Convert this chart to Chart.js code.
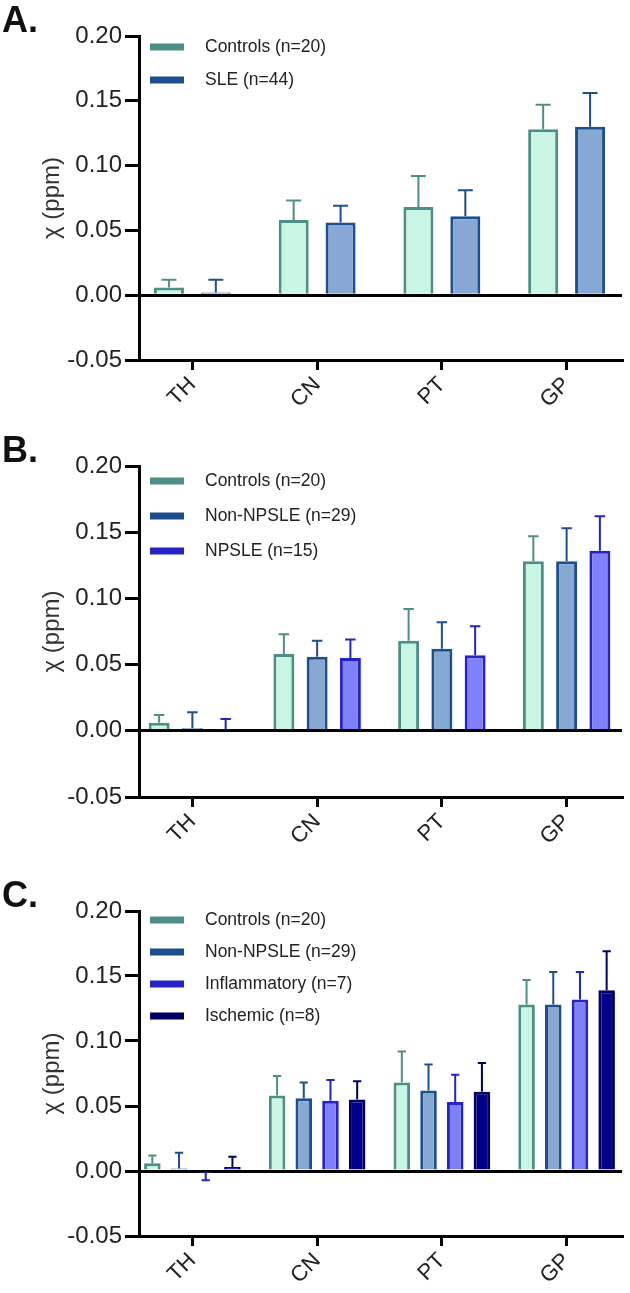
<!DOCTYPE html>
<html>
<head>
<meta charset="utf-8">
<script src="https://cdn.jsdelivr.net/npm/chart.js@4"></script>
<style>
  body { margin: 0; background: #fff; width: 630px; height: 1293px; overflow: hidden; position: relative; }
  .panel { position: absolute; left: 0; width: 630px; }
  .tag { position: absolute; left: 2px; top: 2px; font: bold 36px "Liberation Sans", Arial, sans-serif; line-height: 36px; color: #111; }
</style>
</head>
<body>
<div class="panel" style="top:0;height:430px"><canvas id="chartA"></canvas><div class="tag">A.</div></div>
<div class="panel" style="top:430px;height:440px"><canvas id="chartB"></canvas><div class="tag">B.</div></div>
<div class="panel" style="top:875px;height:421px"><canvas id="chartC"></canvas><div class="tag">C.</div></div>
<script>
const regions = ["TH", "CN", "PT", "GP"];
const yMin = -0.05;
const yMax = 0.2;
const yStep = 0.05;

// group means and SD (ppm)
const controlsMean = [0.006, 0.058, 0.068, 0.128];
const controlsSd = [0.006, 0.015, 0.024, 0.019];
const sleMean = [0.002, 0.056, 0.061, 0.130];
const sleSd = [0.010, 0.013, 0.020, 0.026];
const nonNpsleMean = [0.002, 0.056, 0.062, 0.128];
const nonNpsleSd = [0.012, 0.012, 0.020, 0.025];
const npsleMean = [0.001, 0.055, 0.057, 0.136];
const npsleSd = [0.008, 0.014, 0.022, 0.026];
const inflamMean = [-0.0005, 0.054, 0.053, 0.132];
const inflamSd = [0.0067, 0.016, 0.021, 0.021];
const ischemicMean = [0.003, 0.055, 0.061, 0.139];
const ischemicSd = [0.008, 0.014, 0.022, 0.030];

const FONT = '"Liberation Sans", Arial, sans-serif';

const styles = {
  controls: { fill: "#c9f5e5", border: "#4d8f86" },
  sle: { fill: "#88a8d4", border: "#1d4f8f" },
  npsle: { fill: "#8080fa", border: "#2424c4" },
  ischemic: { fill: "#00008c", border: "#000064" },
};

const ds = (label, data, sd, st) => ({
  label: label,
  data: data.map((v, i) => ({ x: i, y: v })),
  sd: sd,
  backgroundColor: st.fill,
  borderColor: st.border,
  borderWidth: 3,
});

// one-sided error bars (SD) drawn from the bar end
const errorBars = {
  id: "errorBars",
  afterDatasetsDraw(chart) {
    const { ctx } = chart;
    const yScale = chart.scales.y;
    ctx.save();
    chart.data.datasets.forEach((d, i) => {
      const meta = chart.getDatasetMeta(i);
      meta.data.forEach((bar, j) => {
        const m = d.data[j].y;
        const dir = m < 0 ? -1 : 1;
        const yEnd = yScale.getPixelForValue(m + dir * d.sd[j]);
        const cap = bar.width * 0.5;
        ctx.strokeStyle = d.borderColor;
        ctx.lineWidth = 2;
        ctx.beginPath();
        ctx.moveTo(bar.x, bar.y);
        ctx.lineTo(bar.x, yEnd);
        ctx.moveTo(bar.x - cap / 2, yEnd);
        ctx.lineTo(bar.x + cap / 2, yEnd);
        ctx.stroke();
      });
    });
    ctx.restore();
  },
};

// legend inside the plot, top-left
const insideLegend = {
  id: "insideLegend",
  afterDraw(chart, args, opts) {
    const { ctx, chartArea } = chart;
    ctx.save();
    ctx.font = "17.5px " + FONT;
    ctx.textBaseline = "middle";
    chart.data.datasets.forEach((d, i) => {
      const x = chartArea.left + 11;
      const y = chartArea.top + opts.first + i * opts.gap;
      ctx.fillStyle = d.borderColor;
      ctx.fillRect(x, y - 3.5, 34, 7);
      ctx.fillStyle = "#222";
      ctx.fillText(d.label, x + 55, y);
    });
    ctx.restore();
  },
};

const makeChart = (id, datasets, catPct, barPct, padBottom, legendPos) => {
  datasets.forEach((d) => {
    d.categoryPercentage = catPct;
    d.barPercentage = barPct;
  });
  new Chart(document.getElementById(id), {
    type: "bar",
    data: { datasets: datasets },
    options: {
      responsive: true,
      maintainAspectRatio: false,
      animation: false,
      layout: { padding: { top: 36, left: 38, right: 8, bottom: padBottom } },
      plugins: {
        legend: { display: false },
        tooltip: { enabled: false },
        insideLegend: legendPos,
      },
      scales: {
        x: {
          type: "linear",
          offset: false,
          min: -0.428,
          max: 3.444,
          afterFit: (scale) => { scale.height = 60; },
          // one tick per brain region
          afterBuildTicks: (scale) => {
            scale.ticks = regions.map((r, i) => ({ value: i }));
          },
          border: { display: true, color: "#000", width: 3 },
          grid: { display: true, offset: false, drawOnChartArea: false, color: "#000", lineWidth: 3, tickLength: 10 },
          ticks: {
            autoSkip: false,
            color: "#222",
            font: { family: FONT, size: 22 },
            minRotation: 45,
            maxRotation: 45,
            padding: 2,
            callback: (v) => regions[v],
          },
        },
        y: {
          min: yMin,
          max: yMax,
          afterFit: (scale) => { scale.width = 101; },
          border: { display: true, color: "#000", width: 3 },
          grid: {
            color: (c) => (c.tick && Math.abs(c.tick.value) < 1e-9 ? "#000" : "rgba(0,0,0,0)"),
            tickColor: "#000",
            lineWidth: 3,
            tickLength: 14,
          },
          ticks: {
            stepSize: yStep,
            color: "#222",
            font: { family: FONT, size: 24 },
            padding: 3,
            callback: (v) => Number(v).toFixed(2),
          },
          title: { display: true, text: "χ (ppm)", color: "#333", font: { family: FONT, size: 24 }, padding: 0 },
        },
      },
    },
    plugins: [errorBars, insideLegend],
  });
};

makeChart("chartA", [
  ds("Controls (n=20)", controlsMean, controlsSd, styles.controls),
  ds("SLE (n=44)", sleMean, sleSd, styles.sle),
], 0.752, 0.64, 10, { first: 11, gap: 33 });

makeChart("chartB", [
  ds("Controls (n=20)", controlsMean, controlsSd, styles.controls),
  ds("Non-NPSLE (n=29)", nonNpsleMean, nonNpsleSd, styles.sle),
  ds("NPSLE (n=15)", npsleMean, npsleSd, styles.npsle),
], 0.80, 0.63, 13, { first: 15, gap: 35 });

makeChart("chartC", [
  ds("Controls (n=20)", controlsMean, controlsSd, styles.controls),
  ds("Non-NPSLE (n=29)", nonNpsleMean, nonNpsleSd, styles.sle),
  ds("Inflammatory (n=7)", inflamMean, inflamSd, styles.npsle),
  ds("Ischemic (n=8)", ischemicMean, ischemicSd, styles.ischemic),
], 0.856, 0.62, 0, { first: 9, gap: 32 });
</script>
</body>
</html>
